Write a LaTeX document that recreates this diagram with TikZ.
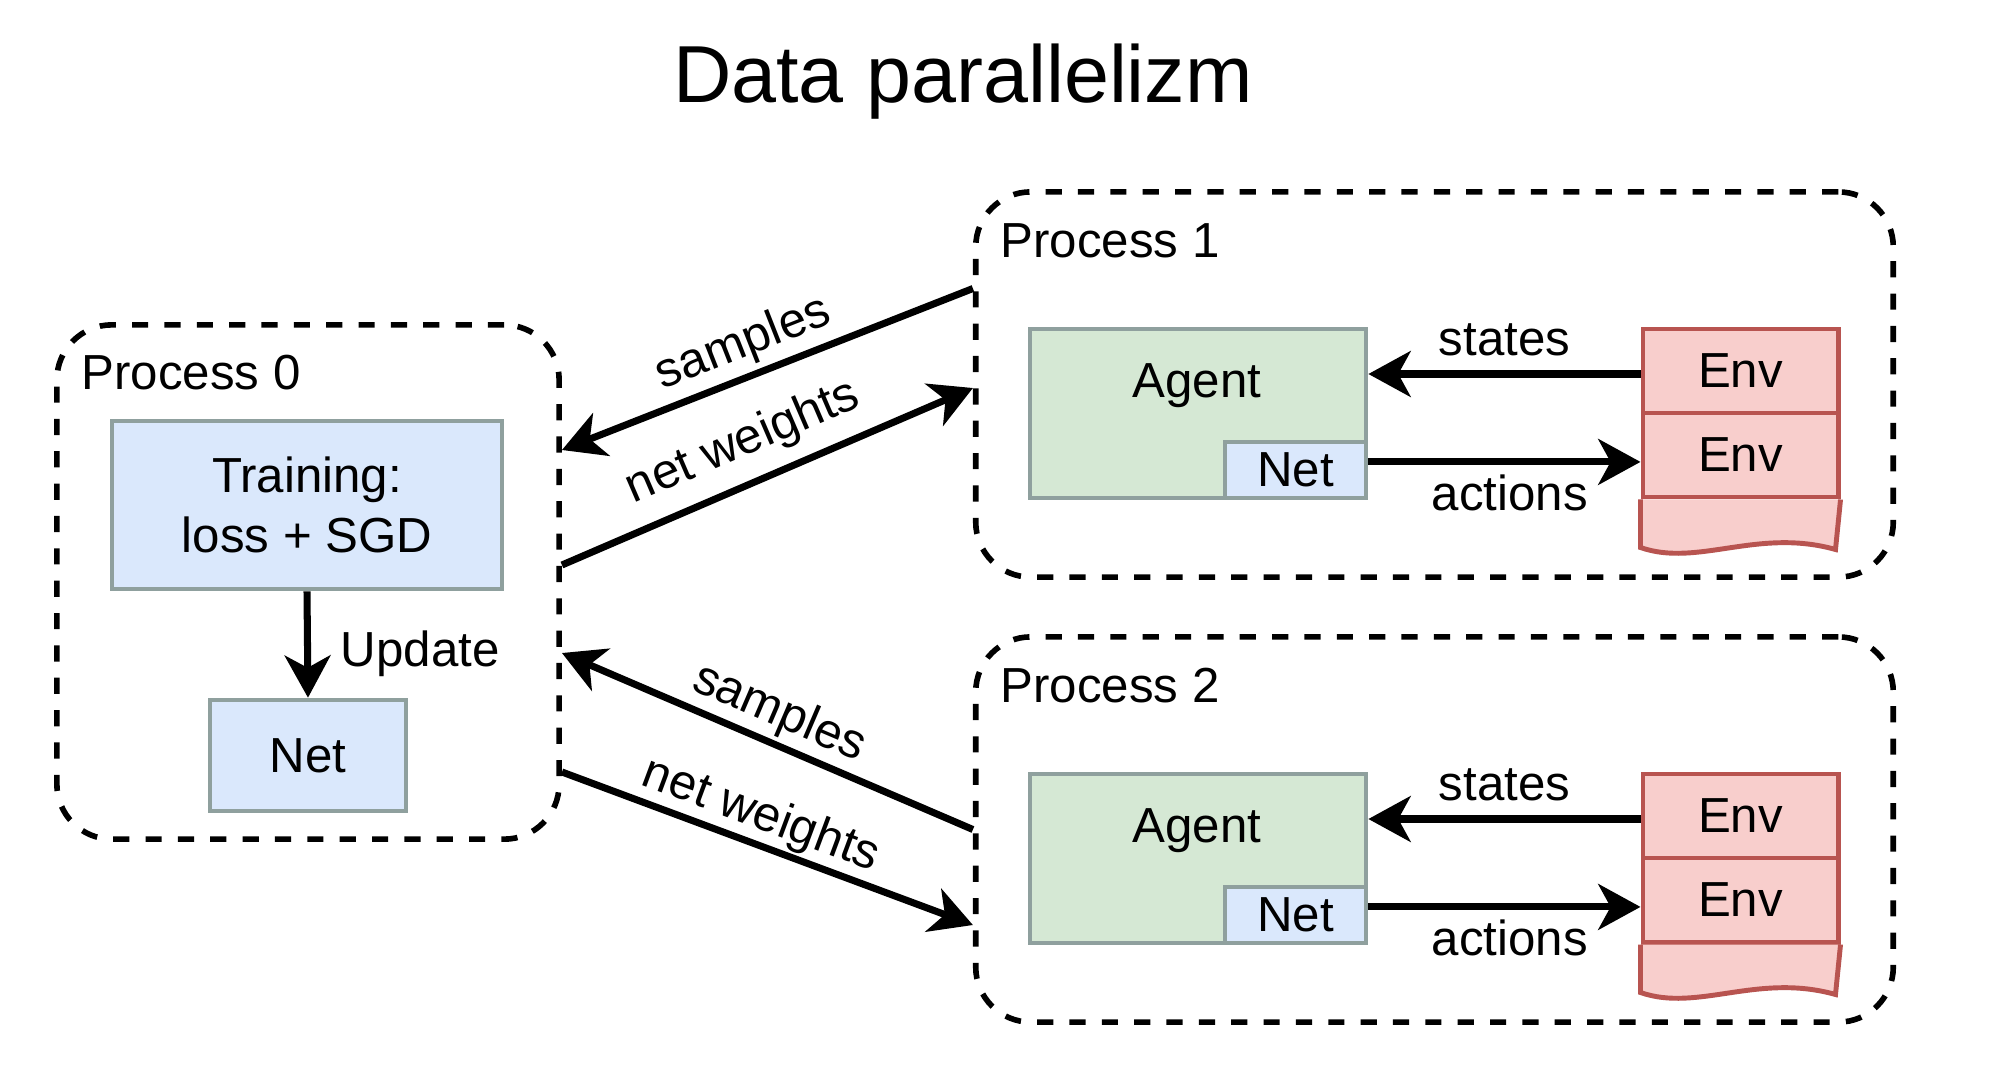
\documentclass[tikz,border=0pt]{standalone}
\usepackage{fontspec}
\setmainfont{Liberation Sans}
\usetikzlibrary{arrows.meta,calc}
\definecolor{boxline}{HTML}{8FA09E}
\definecolor{bluefill}{HTML}{DAE8FC}
\definecolor{greenfill}{HTML}{D5E8D4}
\definecolor{redfill}{HTML}{F8CECC}
\definecolor{redline}{HTML}{B85450}
\begin{document}
\begin{tikzpicture}[x=0.01cm,y=-0.01cm,
  every node/.style={font=\fontsize{14}{17}\selectfont, text=black},
  proc/.style={draw, line width=1.6pt, dash pattern=on 4.6pt off 4.6pt, rounded corners=0.55cm, inner sep=0pt},
  bluebox/.style={draw=boxline, fill=bluefill, line width=1.3pt, inner sep=0pt, align=center},
  greenbox/.style={draw=boxline, fill=greenfill, line width=1.3pt, inner sep=0pt},
  envbox/.style={draw=redline, fill=redfill, line width=1.4pt, inner sep=0pt, minimum width=1.95cm, minimum height=0.84cm},
  arr/.style={line width=2pt, -{Stealth[length=12pt,width=13pt,inset=3.5pt]}},
  rarr/.style={line width=2pt, {Stealth[length=12pt,width=13pt,inset=3.5pt]}-},
  lbl/.style={inner sep=0pt}
]
\fill[white] (0,0) rectangle (2000,1066);
\useasboundingbox (0,0) rectangle (2000,1066);

% title
\node[anchor=base, font=\fontsize{23}{28}\selectfont] (title) at (963,102) {Data parallelizm};

% process 0
\node[proc, minimum width=5.02cm, minimum height=5.14cm] (proc0) at (308,582) {};
\node[lbl, anchor=base west] (plab0) at (81,389) {Process 0};
\node[bluebox, minimum width=3.9cm, minimum height=1.68cm] (train) at (307,505) {Training:\\loss + SGD};
\node[bluebox, minimum width=1.96cm, minimum height=1.11cm] (net0) at (308,755.5) {Net};
\draw[arr] (train.south) -- (net0.north) node[pos=0.585, anchor=west, lbl, xshift=8.5pt] {Update};

% processes 1 and 2
\foreach \i/\dy in {1/0,2/445}{
  \node[proc, minimum width=9.17cm, minimum height=3.85cm] (proc\i) at (1434.5,384.5+\dy) {};
  \node[lbl, anchor=base west] (plab\i) at (1000,257+\dy) {Process \i};
  \node[greenbox, minimum width=3.36cm, minimum height=1.69cm] (agent\i) at (1198,413.5+\dy) {};
  \node[lbl, anchor=base] (agtxt\i) at (1197,397+\dy) {Agent};
  \node[bluebox, minimum width=1.41cm, minimum height=0.56cm] (net\i) at (1295.5,470+\dy) {Net};
  \node[envbox] (enva\i) at (1740.5,371+\dy) {Env};
  \node[envbox] (envb\i) at (1740.5,455+\dy) {Env};
  \draw[draw=redline, fill=redfill, line width=1.4pt] (envb\i.south west) -- ++(0,48)
      .. controls +(57,20) and +(-78,-22) .. ++(195,2) -- (envb\i.south east);
  \coordinate (st\i) at ([yshift=-0.85pt]enva\i.west);
  \draw[arr] (st\i) -- (st\i -| agent\i.east) node[midway, above=4.2pt, lbl] {states};
  \coordinate (ac\i) at ([yshift=2.3pt]net\i.east);
  \draw[arr] (ac\i) -- (ac\i -| envb\i.west) node[midway, below=2.8pt, lbl, xshift=1.5pt] {actions};
}

% exchange arrows
\coordinate (s1a) at ($(proc1.west)+(0,-96)$);
\coordinate (s1b) at ($(proc0.east)+(0,-132)$);
\draw[rarr] (s1b) -- (s1a) node[pos=0.47, sloped, above=1.5pt, lbl] {samples};

\coordinate (w1a) at ($(proc0.east)+(0,-17)$);
\coordinate (w1b) at ($(proc1.west)+(0,3.5)$);
\draw[arr] (w1a) -- (w1b) node[pos=0.48, sloped, above=4pt, lbl] {net weights};

\coordinate (s2a) at (proc2.west);
\coordinate (s2b) at ($(proc0.east)+(0,71)$);
\draw[rarr] (s2b) -- (s2a) node[pos=0.5, sloped, above=1pt, lbl] {samples};

\coordinate (w2a) at ($(proc0.east)+(0,190)$);
\coordinate (w2b) at ($(proc2.west)+(0,95.5)$);
\draw[arr] (w2a) -- (w2b) node[pos=0.46, sloped, above=0.5pt, lbl] {net weights};
\end{tikzpicture}
\end{document}
